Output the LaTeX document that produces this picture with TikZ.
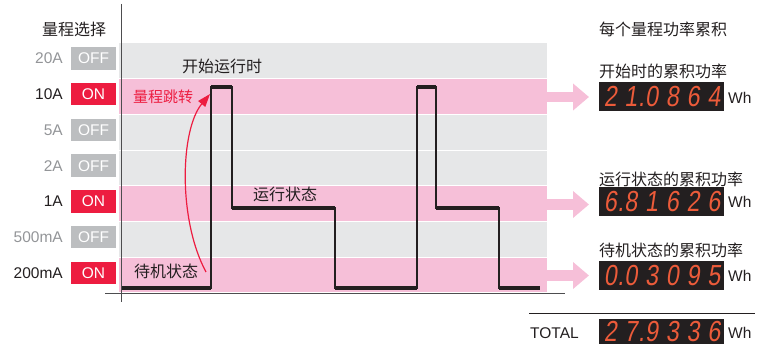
\documentclass[tikz,border=0pt]{standalone}
\usepackage{fontspec}
\setmainfont{Liberation Sans}
\newfontfamily\cjk{Noto Sans CJK SC}
\newfontfamily\segfont[FakeSlant=0.15,FakeStretch=0.8]{Liberation Sans}
\usetikzlibrary{arrows.meta}
\definecolor{bandgray}{HTML}{E6E7E8}
\definecolor{bandpink}{HTML}{F6BFD8}
\definecolor{onred}{HTML}{ED1C40}
\definecolor{offgray}{HTML}{BCBEC0}
\definecolor{txtgray}{HTML}{939598}
\definecolor{ink}{HTML}{231F20}
\definecolor{segred}{HTML}{EC5B3A}
\definecolor{axisgray}{HTML}{4D4D4F}
\newcommand\sg[1]{\makebox[20.7pt][c]{#1}}
\newcommand\segdot{\makebox[0pt][c]{.}}
\begin{document}
\begin{tikzpicture}[x=1pt,y=-1pt,
  lbl/.style={font=\fontsize{15.5}{18}\selectfont, anchor=east, inner sep=0},
  swbox/.style={minimum width=45pt, minimum height=22.5pt, inner sep=0, text=white, font=\fontsize{15.5}{18}\selectfont},
  onbox/.style={swbox, fill=onred},
  offbox/.style={swbox, fill=offgray},
  cn/.style={font=\cjk\fontsize{16}{19}\selectfont, inner sep=0, text=ink},
  cnl/.style={cn, anchor=west},
  disp/.style={fill=ink, minimum width=125pt, minimum height=29pt, inner sep=0, anchor=north west},
  digits/.style={font=\segfont\fontsize{29}{29}\selectfont, text=segred, inner sep=0, anchor=west},
  unit/.style={font=\fontsize{15.5}{18}\selectfont, inner sep=0, anchor=west, text=ink},
  pinkarrow/.style={bandpink, line width=10.5pt, -{Triangle[width=26pt,length=16pt]}},
  stepline/.style={ink, line width=2pt},
  stephi/.style={ink, line width=4pt},
  axis/.style={axisgray, line width=1.5pt}]
\useasboundingbox (0,0) rectangle (769,344);
% bands
\foreach \i/\c in {0/bandgray,1/bandpink,2/bandgray,3/bandgray,4/bandpink,5/bandgray,6/bandpink}
  \fill[\c] (119,{43+35.7*\i+0.5}) rectangle (546.5,{43+35.7*\i+35.2});
% axes
\draw[axis] (121.5,4) -- (121.5,302);
\draw[axis] (105,293.5) -- (565,293.5);
% range selection
\node[cn] (hdr) at (74,29) {量程选择};
\foreach \i/\t/\s/\c in {0/20A/off/txtgray,1/10A/on/ink,2/5A/off/txtgray,3/2A/off/txtgray,4/1A/on/ink,5/500mA/off/txtgray,6/200mA/on/ink}{
  \node[lbl, text=\c] (lbl\i) at (63,{58.5+35.75*\i}) {\t};
}
\foreach \i/\s/\t in {0/offbox/OFF,1/onbox/ON,2/offbox/OFF,3/offbox/OFF,4/onbox/ON,5/offbox/OFF,6/onbox/ON}{
  \node[\s] (sw\i) at (93.5,{58.5+35.75*\i}) {\t};
}
% step curve
\draw[stepline] (122,288) -- (211,288) -- (211,87.5) -- (231.5,87.5) -- (231.5,208.5) -- (335,208.5) -- (335,288) -- (417,288) -- (417,87.5) -- (436,87.5) -- (436,208.5) -- (499,208.5) -- (499,288) -- (540,288);
\draw[stephi] (122,288) -- (211,288);
\draw[stephi] (211,87.5) -- (231.5,87.5);
\draw[stephi] (231.5,208.5) -- (335,208.5);
\draw[stephi] (335,288) -- (417,288);
\draw[stephi] (417,87.5) -- (436,87.5);
\draw[stephi] (436,208.5) -- (499,208.5);
\draw[stephi] (499,288) -- (540,288);
% chart labels
\node[cn] (tstart) at (222,66) {开始运行时};
\node[cn, text=onred, font=\cjk\fontsize{15}{18}\selectfont] (tjump) at (163,97) {量程跳转};
\node[cn] (trun) at (285,194) {运行状态};
\node[cn] (tidle) at (166,271) {待机状态};
\coordinate (jfrom) at (206,272);
\coordinate (jto) at (210,94);
\draw[onred, line width=1.2pt, -{Triangle[width=9pt,length=13pt]}] (jfrom) .. controls (178,220) and (180,130) .. (jto);
% pink arrows
\foreach \k/\y in {1/97,2/204.5,3/275.5}{
  \coordinate (pa\k) at (546.5,\y);
  \coordinate (pb\k) at (589,\y);
  \draw[pinkarrow] (pa\k) -- (pb\k);
}
% right side
\node[cnl] (rhdr) at (599,29) {每个量程功率累积};
\node[cnl] (r1) at (599,71) {开始时的累积功率};
\node[disp] (d1) at (599,82) {};
\node[digits] (n1) at (599.7,96.5) {\sg{2}\sg{1}\segdot\sg{0}\sg{8}\sg{6}\sg{4}};
\node[unit] (u1) at (728,98) {Wh};
\node[cnl] (r2) at (599,179) {运行状态的累积功率};
\node[disp] (d2) at (599,187) {};
\node[digits] (n2) at (599.7,201.5) {\sg{6}\segdot\sg{8}\sg{1}\sg{6}\sg{2}\sg{6}};
\node[unit] (u2) at (728,202) {Wh};
\node[cnl] (r3) at (599,250) {待机状态的累积功率};
\node[disp] (d3) at (599,261) {};
\node[digits] (n3) at (599.7,275.5) {\sg{0}\segdot\sg{0}\sg{3}\sg{0}\sg{9}\sg{5}};
\node[unit] (u3) at (728,276) {Wh};
\coordinate (tl) at (529,314);
\coordinate (tr) at (755,314);
\draw[ink, line width=1pt] (tl) -- (tr);
\node[unit] (ttot) at (530,333) {TOTAL};
\node[disp] (d4) at (599,319) {};
\node[digits] (n4) at (599.7,332) {\sg{2}\sg{7}\segdot\sg{9}\sg{3}\sg{3}\sg{6}};
\node[unit] (u4) at (728,333) {Wh};
\end{tikzpicture}
\end{document}
